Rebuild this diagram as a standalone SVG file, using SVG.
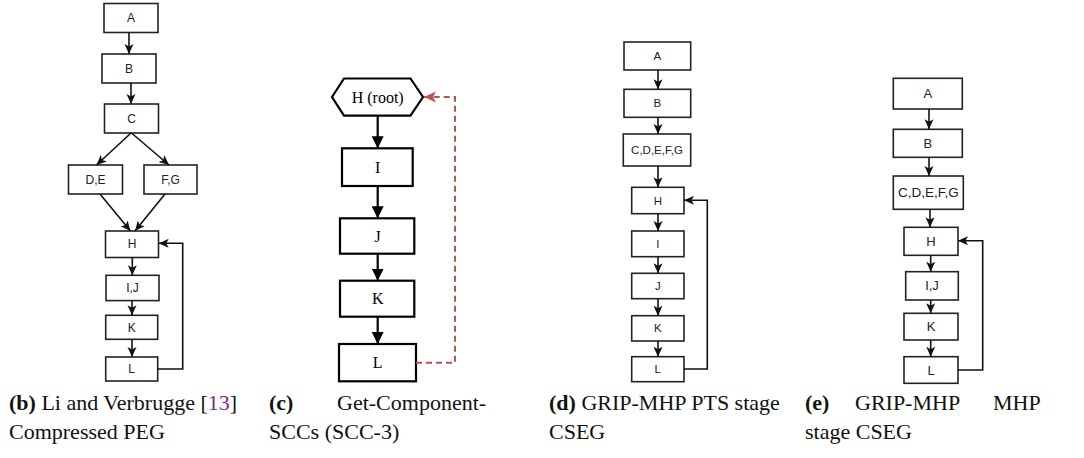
<svg xmlns="http://www.w3.org/2000/svg" width="1084" height="458" viewBox="0 0 1084 458">
<defs>
<style>
.bx{fill:#fff;stroke:#222;stroke-width:1.6}
.bxc{fill:#fff;stroke:#000;stroke-width:2.2}
.t{font-family:"Liberation Sans",Arial,sans-serif;fill:#222;text-anchor:middle}
.tc{font-family:"Liberation Serif","Times New Roman",serif;font-size:16px;fill:#000;text-anchor:middle}
.ln{fill:none;stroke:#111;stroke-width:1.6}
.lnc{fill:none;stroke:#000;stroke-width:2.2}
.lnr{fill:none;stroke:#b85450;stroke-width:2;stroke-dasharray:6 4}
.cap{font-family:"Liberation Serif","Times New Roman",serif;font-size:22px;fill:#111}
.b{font-weight:bold}
</style>
<marker id="arr" viewBox="0 0 10 10" refX="10" refY="5" markerWidth="10" markerHeight="10" markerUnits="userSpaceOnUse" orient="auto">
<path d="M0,0.5 L10,5 L0,9.5 L2.5,5 z" fill="#111"/>
</marker>
<marker id="arrc" viewBox="0 0 12 12" refX="12" refY="6" markerWidth="12" markerHeight="12" markerUnits="userSpaceOnUse" orient="auto">
<path d="M0,0 L12,6 L0,12 z" fill="#000"/>
</marker>
<marker id="arrr" viewBox="0 0 12 12" refX="12" refY="6" markerWidth="12" markerHeight="12" markerUnits="userSpaceOnUse" orient="auto">
<path d="M0,0.5 L12,6 L0,11.5 L3,6 z" fill="#b85450"/>
</marker>
</defs>

<!-- (b) -->
<g id="b-A"><rect class="bx" x="104" y="3.5" width="54" height="29"/><text class="t" x="131" y="22.2" font-size="12">A</text></g>
<g id="b-B"><rect class="bx" x="102" y="54" width="54" height="29"/><text class="t" x="129" y="72.7" font-size="12">B</text></g>
<g id="b-C"><rect class="bx" x="104.5" y="104" width="54" height="29"/><text class="t" x="131.5" y="122.7" font-size="12">C</text></g>
<g id="b-DE"><rect class="bx" x="68.5" y="165" width="54" height="29"/><text class="t" x="95.5" y="183.7" font-size="12">D,E</text></g>
<g id="b-FG"><rect class="bx" x="144" y="165" width="53" height="29"/><text class="t" x="170.5" y="183.7" font-size="12">F,G</text></g>
<g id="b-H"><rect class="bx" x="105.5" y="231" width="53" height="26.5"/><text class="t" x="132" y="248.4" font-size="12">H</text></g>
<g id="b-IJ"><rect class="bx" x="106" y="275.3" width="53" height="25.3"/><text class="t" x="132.5" y="292.2" font-size="12">I,J</text></g>
<g id="b-K"><rect class="bx" x="105.7" y="315.3" width="52" height="24"/><text class="t" x="131.7" y="331.5" font-size="12">K</text></g>
<g id="b-L"><rect class="bx" x="105.7" y="357" width="52" height="24"/><text class="t" x="131.7" y="373.2" font-size="12">L</text></g>

<!-- (c) -->
<g id="c-H"><polygon class="bxc" points="332,97 344,78.5 410.5,78.5 423,97 410.5,115.7 344,115.7"/><text class="tc" x="377.7" y="102.5">H (root)</text></g>
<g id="c-I"><rect class="bxc" x="342" y="148.3" width="70.7" height="37.7"/><text class="tc" x="377.7" y="172.5">I</text></g>
<g id="c-J"><rect class="bxc" x="340" y="218.3" width="74.3" height="35.4"/><text class="tc" x="377.7" y="241.5">J</text></g>
<g id="c-K"><rect class="bxc" x="340" y="280.7" width="74.3" height="36"/><text class="tc" x="377.7" y="304.3">K</text></g>
<g id="c-L"><rect class="bxc" x="339" y="344" width="77" height="37.3"/><text class="tc" x="377.7" y="368.2">L</text></g>

<!-- (d) -->
<g id="d-A"><rect class="bx" x="624" y="42" width="66.7" height="28"/><text class="t" x="657.3" y="60.1" font-size="11.5">A</text></g>
<g id="d-B"><rect class="bx" x="624" y="89.3" width="66.7" height="28"/><text class="t" x="657.3" y="107.4" font-size="11.5">B</text></g>
<g id="d-C"><rect class="bx" x="623.3" y="134" width="67.4" height="32"/><text class="t" x="657" y="154.1" font-size="11.5">C,D,E,F,G</text></g>
<g id="d-H"><rect class="bx" x="631.7" y="187.3" width="52.3" height="26.4"/><text class="t" x="657.8" y="204.6" font-size="11.5">H</text></g>
<g id="d-I"><rect class="bx" x="631.7" y="231" width="52.3" height="25.7"/><text class="t" x="657.8" y="247.9" font-size="11.5">I</text></g>
<g id="d-J"><rect class="bx" x="631.7" y="273.3" width="52.3" height="25.4"/><text class="t" x="657.8" y="290.1" font-size="11.5">J</text></g>
<g id="d-K"><rect class="bx" x="631.7" y="315.7" width="52.3" height="25.3"/><text class="t" x="657.8" y="332.4" font-size="11.5">K</text></g>
<g id="d-L"><rect class="bx" x="631.7" y="356.7" width="52.3" height="25"/><text class="t" x="657.8" y="373.2" font-size="11.5">L</text></g>

<!-- (e) -->
<g id="e-A"><rect class="bx" x="893.3" y="78.3" width="69" height="30.7"/><text class="t" x="927.8" y="98.3" font-size="13">A</text></g>
<g id="e-B"><rect class="bx" x="893.3" y="129.3" width="69" height="28"/><text class="t" x="927.8" y="147.9" font-size="13">B</text></g>
<g id="e-C"><rect class="bx" x="893.3" y="176" width="70" height="33.3"/><text class="t" x="928.3" y="197.2" font-size="13.5">C,D,E,F,G</text></g>
<g id="e-H"><rect class="bx" x="904" y="227.3" width="54" height="28"/><text class="t" x="931" y="245.9" font-size="13">H</text></g>
<g id="e-IJ"><rect class="bx" x="905.7" y="271.7" width="52.6" height="28.3"/><text class="t" x="932" y="290.4" font-size="13">I,J</text></g>
<g id="e-K"><rect class="bx" x="904" y="313.3" width="54" height="26.7"/><text class="t" x="931" y="331.2" font-size="13">K</text></g>
<g id="e-L"><rect class="bx" x="904" y="356.7" width="54" height="26.6"/><text class="t" x="931" y="374.6" font-size="13">L</text></g>

<g id="connectors">
<line class="ln" x1="129" y1="32.5" x2="129" y2="54" marker-end="url(#arr)"/>
<line class="ln" x1="131" y1="83" x2="131" y2="104" marker-end="url(#arr)"/>
<line class="ln" x1="131" y1="133" x2="96.5" y2="165" marker-end="url(#arr)"/>
<line class="ln" x1="131.5" y1="133" x2="169" y2="165" marker-end="url(#arr)"/>
<line class="ln" x1="100" y1="194" x2="130.5" y2="231" marker-end="url(#arr)"/>
<line class="ln" x1="165" y1="194" x2="135" y2="231" marker-end="url(#arr)"/>
<line class="ln" x1="132.3" y1="257.5" x2="132.3" y2="275.3" marker-end="url(#arr)"/>
<line class="ln" x1="132" y1="300.6" x2="132" y2="315.3" marker-end="url(#arr)"/>
<line class="ln" x1="132" y1="339.3" x2="132" y2="357" marker-end="url(#arr)"/>
<path class="ln" d="M157.7,369 H182.7 V243.3 H158.7" marker-end="url(#arr)"/>

<line class="lnc" x1="377.7" y1="115.7" x2="377.7" y2="148.3" marker-end="url(#arrc)"/>
<line class="lnc" x1="377.7" y1="186" x2="377.7" y2="218.3" marker-end="url(#arrc)"/>
<line class="lnc" x1="377.7" y1="253.7" x2="377.7" y2="280.7" marker-end="url(#arrc)"/>
<line class="lnc" x1="377.7" y1="316.7" x2="377.7" y2="344" marker-end="url(#arrc)"/>
<path class="lnr" d="M416,362.7 H455 V97 H424" marker-end="url(#arrr)"/>

<line class="ln" x1="658" y1="70" x2="658" y2="89.3" marker-end="url(#arr)"/>
<line class="ln" x1="658" y1="117.3" x2="658" y2="134" marker-end="url(#arr)"/>
<line class="ln" x1="658" y1="166" x2="658" y2="187.3" marker-end="url(#arr)"/>
<line class="ln" x1="658" y1="213.7" x2="658" y2="231" marker-end="url(#arr)"/>
<line class="ln" x1="658" y1="256.7" x2="658" y2="273.3" marker-end="url(#arr)"/>
<line class="ln" x1="658" y1="298.7" x2="658" y2="315.7" marker-end="url(#arr)"/>
<line class="ln" x1="658" y1="341" x2="658" y2="356.7" marker-end="url(#arr)"/>
<path class="ln" d="M684,369 H707.3 V200.3 H684" marker-end="url(#arr)"/>

<line class="ln" x1="929" y1="109" x2="929" y2="129.3" marker-end="url(#arr)"/>
<line class="ln" x1="929" y1="157.3" x2="929" y2="176" marker-end="url(#arr)"/>
<line class="ln" x1="930" y1="209.3" x2="930" y2="227.3" marker-end="url(#arr)"/>
<line class="ln" x1="930.7" y1="255.3" x2="930.7" y2="271.7" marker-end="url(#arr)"/>
<line class="ln" x1="930.7" y1="300" x2="930.7" y2="313.3" marker-end="url(#arr)"/>
<line class="ln" x1="930.7" y1="340" x2="930.7" y2="356.7" marker-end="url(#arr)"/>
<path class="ln" d="M958,370 H982.7 V240.7 H958" marker-end="url(#arr)"/>
</g>

<g id="captions">
<text class="cap" x="9" y="410"><tspan class="b">(b)</tspan> Li and Verbrugge [<tspan fill="#7b2a86">13</tspan>]</text>
<text class="cap" x="9" y="439">Compressed PEG</text>
<text class="cap" y="410"><tspan class="b" x="269">(c)</tspan><tspan x="337">Get-Component-</tspan></text>
<text class="cap" x="269" y="439">SCCs (SCC-3)</text>
<text class="cap" x="549" y="410"><tspan class="b">(d)</tspan> GRIP-MHP PTS stage</text>
<text class="cap" x="549" y="439">CSEG</text>
<text class="cap" y="410"><tspan class="b" x="805">(e)</tspan><tspan x="855">GRIP-MHP</tspan><tspan x="993">MHP</tspan></text>
<text class="cap" x="805" y="439">stage CSEG</text>
</g>
</svg>
